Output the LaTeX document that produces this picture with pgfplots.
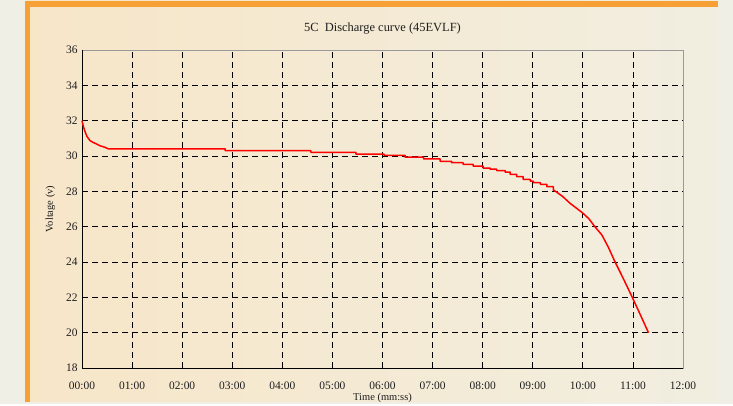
\documentclass[border=0pt]{standalone}
\usepackage{pgfplots}
\pgfplotsset{compat=1.18}
\usepackage{fontspec}
\setmainfont{Liberation Serif}
\definecolor{outerbg}{RGB}{240,239,229}
\definecolor{panelA}{RGB}{247,230,200}
\definecolor{panelB}{RGB}{241,238,224}
\definecolor{orangeb}{RGB}{247,160,53}
\definecolor{txt}{RGB}{30,30,30}
\begin{document}
\begin{tikzpicture}[x=1bp,y=1bp]
\fill[outerbg] (0,0) rectangle (733,404);
\shade[shading=axis,shading angle=45,left color=panelA,right color=panelB] (27,2) rectangle (717.5,403);
\fill[orangeb] (24.5,2.3) rectangle (30,403);
\fill[orangeb] (24.5,397.3) rectangle (717.5,403);
\begin{axis}[
  at={(82bp,36bp)}, anchor=south west,
  scale only axis, width=601bp, height=318bp,
  xmin=0, xmax=12, ymin=18, ymax=36,
  xtick={0,1,...,12},
  xticklabels={00:00,01:00,02:00,03:00,04:00,05:00,06:00,07:00,08:00,09:00,10:00,11:00,12:00},
  ytick={18,20,...,36},
  /pgf/number format/assume math mode=true,
  tick label style={font=\fontsize{11.5}{13}\selectfont, text=txt},
  xticklabel style={yshift=-10bp},
  yticklabel style={xshift=-1bp},
  major tick length=0pt,
  grid=major,
  major grid style={black, line width=0.8pt, dash pattern=on 6bp off 4bp},
  axis line style={draw=gray!80, line width=0.8pt},
  title={5C\ \ Discharge curve (45EVLF)},
  title style={font=\fontsize{12.5}{14}\selectfont, text=txt, yshift=6bp},
  xlabel={Time (mm:ss)},
  ylabel={Voltage (v)},
  label style={font=\fontsize{10.5}{12}\selectfont, text=txt},
  xlabel style={yshift=3bp},
  ylabel style={yshift=4bp},
  clip=false,
]
\draw[black, line width=0.9pt] (rel axis cs:0,1) -- (rel axis cs:0,0) -- (rel axis cs:1,0);
\addplot[red, line width=1.5pt, line join=round] coordinates {
(0,32.0) (0.03,31.65) (0.06,31.38) (0.1,31.1) (0.16,30.87) (0.22,30.77) (0.29,30.68)
(0.36,30.58) (0.45,30.5) (0.53,30.4)
(2.86,30.4) (2.86,30.3) (4.57,30.3) (4.57,30.21) (5.47,30.21) (5.47,30.11)
(6.03,30.11) (6.03,30.03) (6.45,30.03) (6.45,29.93) (6.82,29.93) (6.82,29.83)
(7.15,29.83) (7.15,29.70) (7.38,29.70) (7.38,29.62) (7.61,29.62) (7.61,29.53)
(7.81,29.53) (7.81,29.43) (8.01,29.43) (8.01,29.32) (8.15,29.32) (8.15,29.25)
(8.28,29.25) (8.28,29.17) (8.45,29.17) (8.45,29.09) (8.55,29.09) (8.55,28.96)
(8.68,28.96) (8.68,28.83) (8.81,28.83) (8.81,28.68) (8.95,28.68) (8.95,28.58)
(9.01,28.58) (9.01,28.49) (9.15,28.49) (9.15,28.40) (9.28,28.40) (9.28,28.26)
(9.41,28.26) (9.41,28.08) (9.48,27.95) (9.6,27.7) (9.745,27.32) (9.87,27.05)
(9.99,26.79) (10.12,26.45) (10.24,26.0) (10.38,25.53) (10.51,24.83) (10.64,24.02)
(10.81,23.05) (10.98,22.04) (11.15,21.0) (11.31,20.0)
};
\end{axis}
\end{tikzpicture}
\end{document}
